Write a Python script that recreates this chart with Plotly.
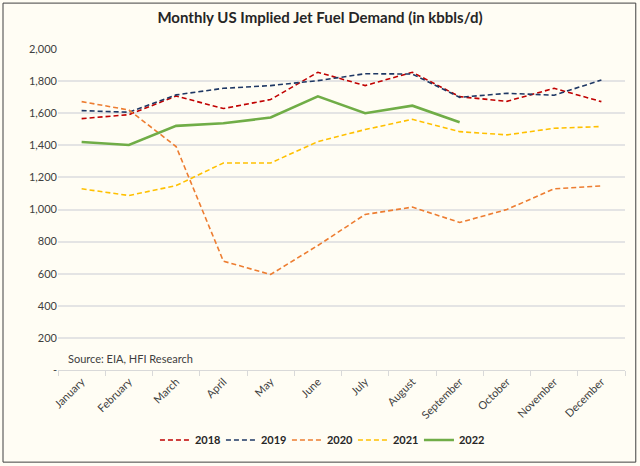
import plotly.graph_objects as go

months = ["January", "February", "March", "April", "May", "June", "July",
          "August", "September", "October", "November", "December"]
y2018 = [1566, 1591, 1707, 1629, 1685, 1855, 1772, 1855, 1703, 1674, 1755, 1672]
y2019 = [1616, 1606, 1714, 1755, 1772, 1803, 1846, 1844, 1699, 1724, 1712, 1807]
y2020 = [1672, 1620, 1392, 678, 595, 776, 969, 1015, 919, 1000, 1129, 1147]
y2021 = [1129, 1087, 1149, 1290, 1290, 1423, 1498, 1562, 1485, 1465, 1506, 1517]
y2022 = [1421, 1402, 1521, 1537, 1573, 1705, 1600, 1647, 1544]
tickvals = [0, 200, 400, 600, 800, 1000, 1200, 1400, 1600, 1800, 2000]
ticktext = ["-", "200", "400", "600", "800", "1,000", "1,200", "1,400", "1,600", "1,800", "2,000"]

FONT = "Lato, 'Open Sans', sans-serif"
fig = go.Figure()
series = [
    ("2018", y2018, "#C00000", "5px,3px", 1.6),
    ("2019", y2019, "#1F3864", "5px,3px", 1.6),
    ("2020", y2020, "#ED7D31", "5px,3px", 1.6),
    ("2021", y2021, "#FFC000", "5px,3px", 1.6),
    ("2022", y2022, "#70AD47", "solid", 2.6),
]
for name, ys, col, dash, w in series:
    fig.add_trace(go.Scatter(x=months[:len(ys)], y=ys, mode="lines", name=name,
                             line=dict(color=col, dash=dash, width=w)))

fig.update_layout(
    width=640, height=466,
    paper_bgcolor="#FFFDF4", plot_bgcolor="#FFFDF4",
    margin=dict(l=58, r=15, t=49, b=96),
    font=dict(family=FONT, size=11, color="#404040"),
    title=dict(text="<b>Monthly US Implied Jet Fuel Demand (in kbbls/d)</b>",
               x=0.5, xanchor="center", y=1 - 18 / 466, yanchor="middle",
               font=dict(size=15, color="#262626", family=FONT)),
    showlegend=True,
    legend=dict(orientation="h", x=0.462, xanchor="center", y=-0.218, yanchor="middle",
                font=dict(size=11, color="#262626", family=FONT, weight="bold"),
                bgcolor="rgba(0,0,0,0)", traceorder="normal",
                entrywidth=21, entrywidthmode="pixels"),
    xaxis=dict(type="category", range=[-0.5, 11.5], tickangle=-45,
               showgrid=False, showline=True, linecolor="#D9D9D9", linewidth=1,
               ticks="outside", tickson="boundaries", ticklen=5, tickcolor="#D9D9D9",
               tickfont=dict(size=11, color="#404040")),
    yaxis=dict(range=[0, 2000], tickvals=tickvals, ticktext=ticktext,
               showgrid=True, gridcolor="#E4E4E4", gridwidth=1.5, zeroline=False,
               showline=False, ticks="", tickfont=dict(size=11, color="#404040")),
)
fig.add_annotation(text="Source: EIA, HFI Research", xref="paper", yref="paper",
                   x=0.014, y=0.037, xanchor="left", yanchor="middle", showarrow=False,
                   font=dict(size=11, color="#404040", family=FONT))
fig.add_shape(type="rect", xref="paper", yref="paper",
              x0=-0.097, x1=1.019, y0=-0.287, y1=1.143,
              line=dict(color="#404040", width=1), layer="below")
fig.write_html("out.html", config={"displayModeBar": False},
               post_script="document.body.style.margin='0';")
